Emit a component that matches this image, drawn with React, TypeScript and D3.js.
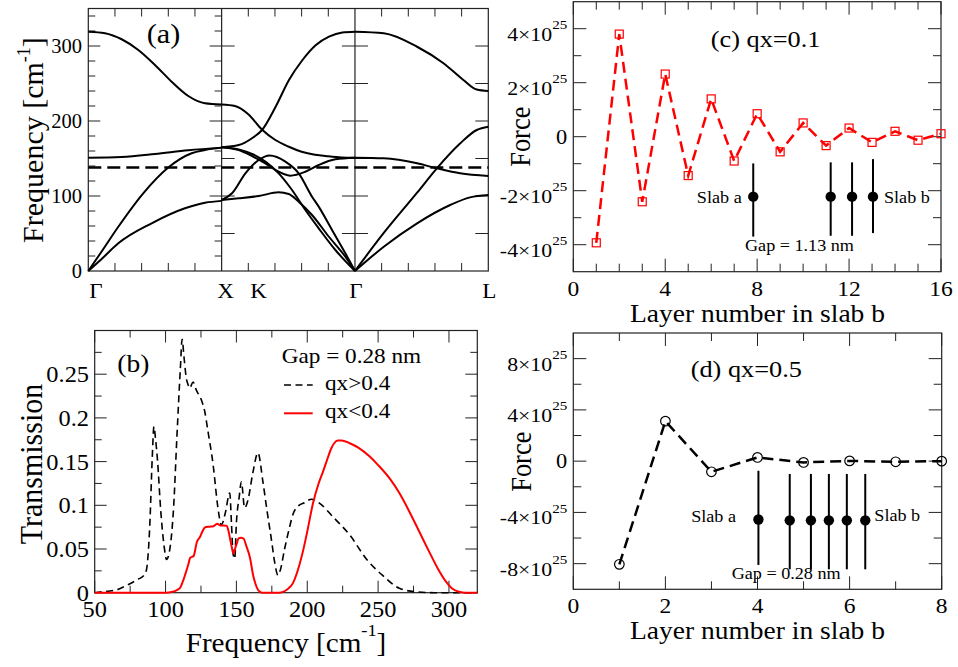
import React from "react";
import * as d3 from "d3";

const SERIF = "'Liberation Serif','Times New Roman','DejaVu Serif',serif";
const AX = "#222";
const RED = "#f00";

// ---------- (a) phonon dispersion: Γ=0, X=1, Γ=2, L=3 ----------
const pathLabels = ["Γ", "X", "K", "Γ", "L"];
const pathPos = [0, 1, 1.27, 2, 3];
const freqTicksA = [0, 100, 200, 300];
const dashedLevel = 138;

const bandsGX: [number, number][][] = [
  [[0, 319], [0.125, 317], [0.25, 309], [0.375, 294.7], [0.5, 274.7], [0.625, 252.4], [0.75, 233.3], [0.875, 223.6], [1, 222]],
  [[0, 151], [0.25, 152], [0.5, 156], [0.75, 161], [1, 164.5]],
  [[0, 0], [0.1, 26], [0.225, 59], [0.412, 103.6], [0.6, 138], [0.775, 157], [0.875, 161.3], [1, 164.5]],
  [[0, 0], [0.1, 16], [0.225, 36.9], [0.475, 63.6], [0.725, 83.6], [0.875, 91], [1, 93.5]],
];
const bandsXG: [number, number][][] = [
  [[1, 165], [1.128, 168], [1.228, 177], [1.303, 188], [1.405, 219], [1.505, 254.7], [1.605, 281], [1.705, 301], [1.805, 312.4], [1.905, 318], [2, 319]],
  [[1, 222], [1.1, 220], [1.2, 209], [1.3, 189], [1.4, 175], [1.5, 166], [1.6, 159], [1.7, 155], [1.8, 153], [1.9, 151.5], [2, 151]],
  [[1, 165], [1.128, 162.2], [1.228, 156], [1.328, 145.8], [1.428, 130.2], [1.528, 108], [1.628, 81.3], [1.728, 56.9], [1.853, 28], [2, 0]],
  [[1, 165], [1.128, 161.3], [1.228, 153.3], [1.328, 143.6], [1.403, 134.7], [1.515, 127.1], [1.628, 132.4], [1.728, 141.3], [1.853, 148.9], [2, 151]],
  [[1, 94.7], [1.078, 103.6], [1.178, 130.2], [1.278, 148], [1.36, 154], [1.478, 145.8], [1.578, 130.2], [1.678, 99.1], [1.728, 85.8], [1.828, 54.7], [1.928, 23.6], [2, 0]],
  [[1, 94.7], [1.128, 96.9], [1.278, 100], [1.428, 104.9], [1.503, 102.7], [1.578, 92.4], [1.678, 74.7], [1.803, 46], [1.928, 19.1], [2, 0]],
];
const bandsGL: [number, number][][] = [
  [[2, 319], [2.216, 317], [2.466, 299], [2.664, 277], [2.813, 254.7], [2.913, 242], [3, 240]],
  [[2, 151], [2.216, 150.2], [2.466, 143.6], [2.614, 136.9], [2.788, 130.2], [3, 126.7]],
  [[2, 0], [2.216, 50.7], [2.466, 104.4], [2.614, 136.9], [2.788, 170], [2.913, 188], [3, 192.4]],
  [[2, 0], [2.216, 32.4], [2.466, 63.6], [2.714, 88], [2.863, 98.2], [3, 101.3]],
];

// ---------- (b) transmission ----------
const transHigh: [number, number][] = [
  [50, 0], [55, 0.001], [60.8, 0.002], [65, 0.003], [70.2, 0.0065], [72.5, 0.0084], [77.2, 0.0122], [80, 0.015], [84.3, 0.019], [85.4, 0.022],
  [86.5, 0.026], [88.9, 0.078], [90.6, 0.154], [91.8, 0.19], [93, 0.175], [94.3, 0.152], [96.6, 0.094], [99, 0.053], [100.7, 0.038],
  [103.3, 0.053], [105.7, 0.098], [108, 0.178], [110.4, 0.255], [111.7, 0.29], [113, 0.27], [114.7, 0.245], [115.9, 0.238],
  [117, 0.234], [119.4, 0.241], [121.8, 0.2315], [125.3, 0.2205], [127.7, 0.207], [129.8, 0.186], [133.6, 0.146], [136.9, 0.098],
  [139.4, 0.0775], [142, 0.09], [145.3, 0.114], [146.5, 0.08], [147.6, 0.045], [148.8, 0.039], [150, 0.08], [152, 0.11],
  [153.5, 0.127], [155.8, 0.097], [158, 0.105], [161.7, 0.138], [165.2, 0.16], [168.7, 0.127], [171.5, 0.095], [174.6, 0.062],
  [177, 0.035], [179.3, 0.02], [181, 0.026], [184, 0.05], [187.6, 0.0755], [190, 0.09], [193.5, 0.099], [198, 0.103],
  [203, 0.107], [209, 0.102], [218, 0.087], [230, 0.066], [242, 0.038], [253, 0.02], [265, 0.005], [277, 0.001], [290, 0], [320, 0],
];
const transLow: [number, number][] = [
  [50, 0], [100, 0], [105, 0.001], [108, 0.003], [110.4, 0.006], [112, 0.012], [113.9, 0.021], [116, 0.032], [117.4, 0.04],
  [119.8, 0.042], [122.1, 0.058], [124.4, 0.064], [126, 0.07], [128, 0.075], [131, 0.0755], [133.8, 0.076], [136.4, 0.079],
  [138.5, 0.077], [141, 0.077], [143.2, 0.0765], [144.5, 0.07], [145.5, 0.062], [147, 0.05], [147.8, 0.045], [149, 0.05],
  [150.2, 0.056], [151.5, 0.062], [153, 0.063], [155, 0.062], [157.1, 0.053], [159.6, 0.04], [161.8, 0.02], [163.5, 0.01],
  [165, 0.004], [166.7, 0.001], [168, 0], [180, 0], [183, 0.001], [186, 0.004], [189.9, 0.011], [193, 0.024], [196.9, 0.047],
  [200, 0.07], [204, 0.102], [208, 0.125], [211, 0.138], [214, 0.152], [216.9, 0.165], [219, 0.171], [221.6, 0.174], [224, 0.174],
  [227, 0.173], [230, 0.171], [236, 0.166], [243.9, 0.156], [250, 0.146], [258, 0.131], [265, 0.114], [272, 0.093], [279, 0.07],
  [286, 0.047], [292, 0.028], [297.9, 0.0126], [302, 0.005], [307, 0.001], [312, 0], [320, 0],
];
const freqTicksB = [50, 100, 150, 200, 250, 300];
const transTicks = [0, 0.05, 0.1, 0.15, 0.2, 0.25];
const transTickLabels = ["0", "0.05", "0.1", "0.15", "0.2", "0.25"];

// ---------- (c) force, qx=0.1 (units of 1e25) ----------
const layersC = [1, 2, 3, 4, 5, 6, 7, 8, 9, 10, 11, 12, 13, 14, 15, 16];
const forceC = [-3.93, 3.8, -2.41, 2.32, -1.44, 1.4, -0.9, 0.85, -0.56, 0.51, -0.33, 0.32, -0.21, 0.2, -0.13, 0.11];
const layerTicksC = [0, 4, 8, 12, 16];
const forceTicksC = [-4, -2, 0, 2, 4];
const slabC = { x: [7.83, 11.2, 12.13, 13.04], top: [-0.99, -0.95, -0.95, -0.83], bottom: [-3.7, -3.67, -3.67, -3.57], dot: [-2.22, -2.22, -2.22, -2.22] };

// ---------- (d) force, qx=0.5 ----------
const layersD = [1, 2, 3, 4, 5, 6, 7, 8];
const forceD = [-8.05, 3.12, -0.83, 0.29, -0.1, 0.02, -0.05, 0];
const layerTicksD = [0, 2, 4, 6, 8];
const forceTicksD = [-8, -4, 0, 4, 8];
const slabD = {
  x: [4.02, 4.7, 5.16, 5.55, 5.94, 6.34],
  top: [-0.75, -1.0, -1.0, -1.0, -1.0, -1.0],
  bottom: [-8.1, -8.44, -8.44, -8.44, -8.44, -8.44],
  dot: [-4.55, -4.62, -4.62, -4.62, -4.62, -4.62],
};

// scales
const xA = d3.scaleLinear().domain([0, 3]).range([88.3, 488.3]);
const yA = d3.scaleLinear().domain([0, 350]).range([271, 8.5]);
const xB = d3.scaleLinear().domain([50, 320]).range([94.7, 477.3]);
const yB = d3.scaleLinear().domain([0, 0.3]).range([592.7, 330.5]);
const xC = d3.scaleLinear().domain([0, 16]).range([573.3, 941]);
const yC = d3.scaleLinear().domain([-5, 5]).range([271.7, 1.7]);
const xD = d3.scaleLinear().domain([0, 8]).range([573.3, 941.7]);
const yD = d3.scaleLinear().domain([-10, 10]).range([589.3, 333]);

type TP = { x: number; y: number; size: number; anchor?: string; sx?: number; rot?: number; children: React.ReactNode };
function Txt({ x, y, size, anchor = "start", sx = 1, rot = 0, children }: TP) {
  return (
    <text
      transform={`translate(${x},${y}) scale(${sx},1)${rot ? ` rotate(${rot})` : ""}`}
      fontSize={size}
      fontFamily={SERIF}
      textAnchor={anchor}
      fill="#000"
    >
      {children}
    </text>
  );
}

function Ticks({ x, y, xs, ys, len }: { x: any; y: any; xs: number[]; ys: number[]; len: number }) {
  const [x0, x1] = x.range();
  const [y0, y1] = y.range();
  return (
    <g stroke={AX} strokeWidth={1}>
      {xs.map((v) => (
        <g key={"x" + v}>
          <line x1={x(v)} x2={x(v)} y1={y0} y2={y0 - len} />
          <line x1={x(v)} x2={x(v)} y1={y1} y2={y1 + len} />
        </g>
      ))}
      {ys.map((v) => (
        <g key={"y" + v}>
          <line x1={x0} x2={x0 + len} y1={y(v)} y2={y(v)} />
          <line x1={x1} x2={x1 - len} y1={y(v)} y2={y(v)} />
        </g>
      ))}
    </g>
  );
}

function Frame({ x, y }: { x: any; y: any }) {
  const [x0, x1] = x.range();
  const [y0, y1] = y.range();
  return <rect x={x0} y={y1} width={x1 - x0} height={y0 - y1} fill="none" stroke={AX} strokeWidth={1.2} />;
}

function SciLabel({ x, y, v }: { x: number; y: number; v: number }) {
  if (v === 0) return <Txt x={x} y={y + 7} size={20} anchor="end" sx={1.12}>0</Txt>;
  return (
    <Txt x={x} y={y + 12} size={19.5} anchor="end" sx={1.12}>
      {`${v < 0 ? "-" : ""}${Math.abs(v)}×10`}
      <tspan dy={-11.5} fontSize={13.5}>25</tspan>
    </Txt>
  );
}

export default function App() {
  const lineA = d3.line<[number, number]>().x((d) => xA(d[0])).y((d) => yA(d[1])).curve(d3.curveMonotoneX);
  const lineB = d3.line<[number, number]>().x((d) => xB(d[0])).y((d) => yB(d[1])).curve(d3.curveMonotoneX);
  const lineC = d3.line<number>().x((_, i) => xC(layersC[i])).y((d) => yC(d));
  const lineD = d3.line<number>().x((_, i) => xD(layersD[i])).y((d) => yD(d));

  const aMinorX = [0.2, 0.4, 0.6, 0.8, 1.2, 1.4, 1.6, 1.8, 2.2, 2.4, 2.6, 2.8];
  const aFine = d3.range(20, 350, 20);
  const aCoarse = d3.range(50, 350, 50);

  return (
    <svg width={958} height={667} style={{ position: "absolute", left: 0, top: 0, background: "#fff" }}>
      {/* ===== (a) ===== */}
      <g>
        <Frame x={xA} y={yA} />
        <line x1={xA(1)} x2={xA(1)} y1={yA(0)} y2={yA(350)} stroke={AX} strokeWidth={1.2} />
        <line x1={xA(2)} x2={xA(2)} y1={yA(0)} y2={yA(350)} stroke={AX} strokeWidth={1.2} />
        <g stroke={AX} strokeWidth={1}>
          {aMinorX.map((v) => (
            <g key={v}>
              <line x1={xA(v)} x2={xA(v)} y1={yA(0)} y2={yA(0) - 8} />
              <line x1={xA(v)} x2={xA(v)} y1={yA(350)} y2={yA(350) + 8} />
            </g>
          ))}
          {aFine.map((v) => {
            const L = v % 100 === 0 ? 12 : 7;
            return (
              <g key={"f" + v}>
                <line x1={xA(0)} x2={xA(0) + L} y1={yA(v)} y2={yA(v)} />
                <line x1={xA(1)} x2={xA(1) - L} y1={yA(v)} y2={yA(v)} />
              </g>
            );
          })}
          {aCoarse.map((v) => (
            <g key={"c" + v}>
              <line x1={xA(1)} x2={xA(1) + 13} y1={yA(v)} y2={yA(v)} />
              <line x1={xA(2) - 13} x2={xA(2) + 13} y1={yA(v)} y2={yA(v)} />
              <line x1={xA(3)} x2={xA(3) - 13} y1={yA(v)} y2={yA(v)} />
            </g>
          ))}
        </g>
        {[...bandsGX, ...bandsXG, ...bandsGL].map((b, i) => (
          <path key={i} d={lineA(b) || ""} fill="none" stroke="#000" strokeWidth={2} />
        ))}
        <line x1={xA(0)} x2={xA(3)} y1={yA(dashedLevel)} y2={yA(dashedLevel)} stroke="#000" strokeWidth={2.5} strokeDasharray="13,6" />
        {freqTicksA.map((v) => (
          <Txt key={v} x={82} y={yA(v) + 7} size={20.5} anchor="end">{v}</Txt>
        ))}
        {pathLabels.map((s, i) => (
          <Txt key={i} x={i === 0 ? xA(pathPos[i]) + 1 : xA(pathPos[i]) + (i === 1 ? 4 : 1)} y={297.7} size={22} anchor={i === 0 ? "start" : "middle"} sx={1.05}>{s}</Txt>
        ))}
        <Txt x={43} y={140} size={30} anchor="middle" rot={-90}>
          Frequency [cm<tspan dy={-13} fontSize={18}>-1</tspan><tspan dy={13}>]</tspan>
        </Txt>
        <Txt x={146.7} y={43.3} size={28} sx={1.08}>(a)</Txt>
      </g>

      {/* ===== (b) ===== */}
      <g>
        <Frame x={xB} y={yB} />
        <Ticks x={xB} y={yB} xs={freqTicksB} ys={transTicks} len={12} />
        <Ticks x={xB} y={yB} xs={d3.range(75, 320, 50)} ys={d3.range(0.025, 0.3, 0.05)} len={7} />
        <path d={lineB(transHigh) || ""} fill="none" stroke="#000" strokeWidth={1.6} strokeDasharray="7,4.5" />
        <path d={lineB(transLow) || ""} fill="none" stroke={RED} strokeWidth={2} />
        {transTicks.map((v, i) => (
          <Txt key={v} x={89} y={yB(v) + 8} size={23} anchor="end" sx={1.06}>{transTickLabels[i]}</Txt>
        ))}
        {freqTicksB.map((v) => (
          <Txt key={v} x={xB(v)} y={616.7} size={23} anchor="middle" sx={1.06}>{v}</Txt>
        ))}
        <Txt x={286} y={651.7} size={27} anchor="middle" sx={1.08}>
          Frequency [cm<tspan dy={-16} fontSize={17}>-1</tspan><tspan dy={16}>]</tspan>
        </Txt>
        <Txt x={41.7} y={464} size={30} anchor="middle" sx={1.08} rot={-90}>Transmission</Txt>
        <Txt x={117.3} y={371.7} size={25} sx={1.1}>(b)</Txt>
        <Txt x={281.7} y={362.7} size={21.5} sx={1.08}>Gap = 0.28 nm</Txt>
        <line x1={284} x2={312.7} y1={385} y2={385} stroke="#000" strokeWidth={1.6} strokeDasharray="7,4.5" />
        <Txt x={325} y={390} size={21.5} sx={1.08}>qx&gt;0.4</Txt>
        <line x1={284} x2={312.7} y1={413.3} y2={413.3} stroke={RED} strokeWidth={2} />
        <Txt x={325} y={418.3} size={21.5} sx={1.08}>qx&lt;0.4</Txt>
      </g>

      {/* ===== (c) ===== */}
      <g>
        <Frame x={xC} y={yC} />
        <Ticks x={xC} y={yC} xs={layerTicksC} ys={forceTicksC} len={13} />
        <Ticks x={xC} y={yC} xs={d3.range(1, 16).filter((v) => v % 4 !== 0)} ys={[-3, -1, 1, 3]} len={8} />
        {slabC.x.map((v, i) => (
          <g key={i}>
            <line x1={xC(v)} x2={xC(v)} y1={yC(slabC.top[i])} y2={yC(slabC.bottom[i])} stroke="#000" strokeWidth={2} />
            <circle cx={xC(v)} cy={yC(slabC.dot[i])} r={5.2} fill="#000" />
          </g>
        ))}
        <path d={lineC(forceC) || ""} fill="none" stroke={RED} strokeWidth={2.5} strokeDasharray="11,6" />
        {forceC.map((v, i) => (
          <rect key={i} x={xC(layersC[i]) - 4} y={yC(v) - 4} width={8} height={8} fill="none" stroke={RED} strokeWidth={1.2} />
        ))}
        {forceTicksC.map((v) => (
          <SciLabel key={v} x={567.3} y={yC(v)} v={v} />
        ))}
        {layerTicksC.map((v) => (
          <Txt key={v} x={xC(v)} y={296} size={21} anchor="middle" sx={1.12}>{v}</Txt>
        ))}
        <Txt x={757.5} y={321.7} size={25} anchor="middle" sx={1.1}>Layer number in slab b</Txt>
        <Txt x={530} y={136.7} size={26.5} anchor="middle" sx={1.12} rot={-90}>Force</Txt>
        <Txt x={710.7} y={46.7} size={23.5} sx={1.12}>(c) qx=0.1</Txt>
        <Txt x={741.7} y={202.7} size={16.5} anchor="end" sx={1.1}>Slab a</Txt>
        <Txt x={884} y={202.7} size={16.5} sx={1.1}>Slab b</Txt>
        <Txt x={745} y={250.7} size={16.5} sx={1.1}>Gap = 1.13 nm</Txt>
      </g>

      {/* ===== (d) ===== */}
      <g>
        <Frame x={xD} y={yD} />
        <Ticks x={xD} y={yD} xs={layerTicksD} ys={forceTicksD} len={13} />
        <Ticks x={xD} y={yD} xs={[1, 3, 5, 7]} ys={[-6, -2, 2, 6]} len={8} />
        {slabD.x.map((v, i) => (
          <g key={i}>
            <line x1={xD(v)} x2={xD(v)} y1={yD(slabD.top[i])} y2={yD(slabD.bottom[i])} stroke="#000" strokeWidth={2} />
            <circle cx={xD(v)} cy={yD(slabD.dot[i])} r={5.2} fill="#000" />
          </g>
        ))}
        <path d={lineD(forceD) || ""} fill="none" stroke="#000" strokeWidth={2.5} strokeDasharray="11,6" />
        {forceD.map((v, i) => (
          <circle key={i} cx={xD(layersD[i])} cy={yD(v)} r={4.8} fill="none" stroke="#000" strokeWidth={1.2} />
        ))}
        {forceTicksD.map((v) => (
          <SciLabel key={v} x={567.3} y={yD(v)} v={v} />
        ))}
        {layerTicksD.map((v) => (
          <Txt key={v} x={xD(v)} y={613.3} size={21} anchor="middle" sx={1.12}>{v}</Txt>
        ))}
        <Txt x={757.5} y={639} size={25} anchor="middle" sx={1.1}>Layer number in slab b</Txt>
        <Txt x={530.7} y={461.7} size={26.5} anchor="middle" sx={1.12} rot={-90}>Force</Txt>
        <Txt x={690.7} y={376.7} size={23.5} sx={1.12}>(d) qx=0.5</Txt>
        <Txt x={736} y={522} size={16.5} anchor="end" sx={1.1}>Slab a</Txt>
        <Txt x={874.3} y={520.7} size={16.5} sx={1.1}>Slab b</Txt>
        <Txt x={731.7} y={579.3} size={16.5} sx={1.1}>Gap = 0.28 nm</Txt>
      </g>
    </svg>
  );
}
